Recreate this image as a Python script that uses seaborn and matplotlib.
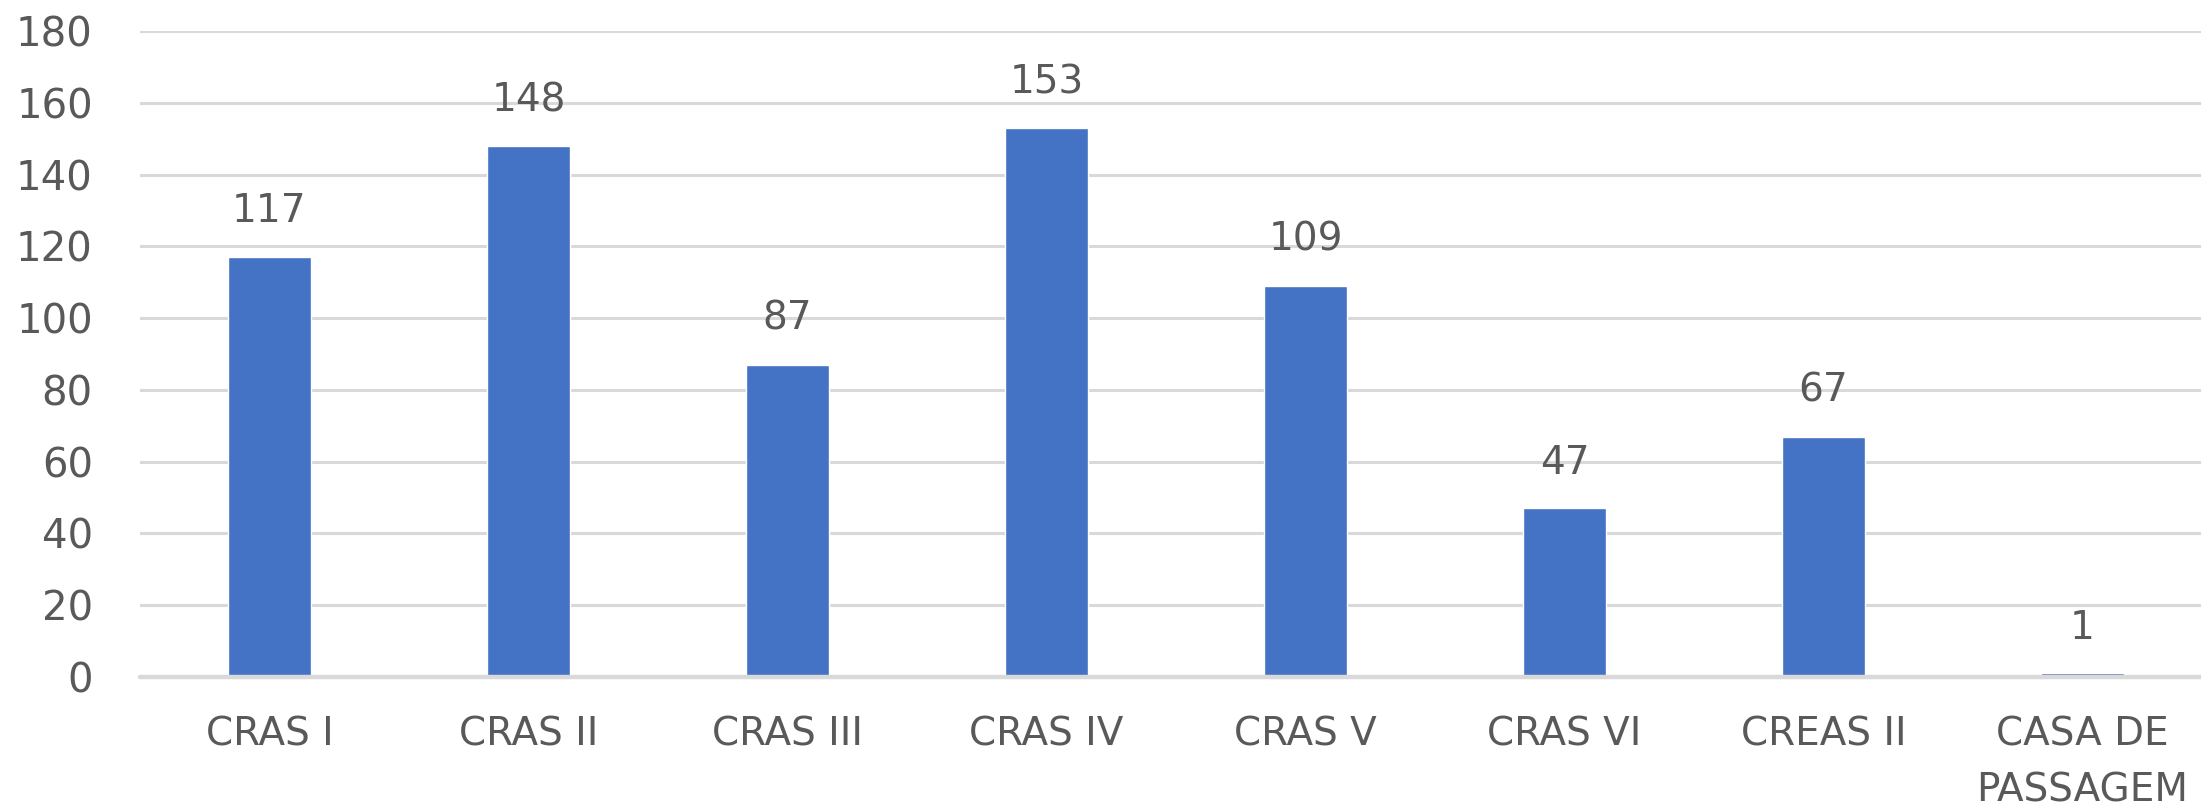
import matplotlib
matplotlib.use("Agg")
import matplotlib.pyplot as plt
import seaborn as sns
import pandas as pd

# dados
categorias = ["CRAS I", "CRAS II", "CRAS III", "CRAS IV", "CRAS V",
              "CRAS VI", "CREAS II", "CASA DE\nPASSAGEM"]
valores = [117, 148, 87, 153, 109, 47, 67, 1]
ticks_y = [0, 20, 40, 60, 80, 100, 120, 140, 160, 180]

azul = "#4472C4"
cinza_texto = "#595959"
cinza_grade = "#D9D9D9"

sns.set_style("white")
plt.rcParams["font.family"] = ["DejaVu Sans"]

df = pd.DataFrame({"local": categorias, "total": valores})

fig = plt.figure(figsize=(22.01, 8.07), dpi=100)
ax = fig.add_axes([0.0636, 0.161, 0.9414, 0.8006])

sns.barplot(data=df, x="local", y="total", color=azul, width=0.32,
            saturation=1, ax=ax)

ax.set_ylim(0, 180)
ax.set_xlim(-0.5, len(categorias) - 0.5)
ax.set_yticks(ticks_y)
ax.yaxis.grid(True, color=cinza_grade, linewidth=2.2)
ax.set_axisbelow(True)
# linha do zero por cima das barras
ax.axhline(0, color=cinza_grade, linewidth=3.2, zorder=4, clip_on=False)
for s in ax.spines.values():
    s.set_visible(False)

ax.set_xlabel("")
ax.set_ylabel("")
ax.tick_params(axis="y", length=0, pad=34, labelsize=29, labelcolor=cinza_texto)
ax.tick_params(axis="x", length=0, pad=28, labelsize=28, labelcolor=cinza_texto)
for t in ax.get_xticklabels():
    t.set_linespacing(1.6)

# rótulos de dados
for i, v in enumerate(valores):
    ax.annotate(str(v), (i, v), xytext=(0, 33), textcoords="offset points",
                ha="center", va="center", fontsize=28, color=cinza_texto)

fig.savefig("out.png", dpi=100)
